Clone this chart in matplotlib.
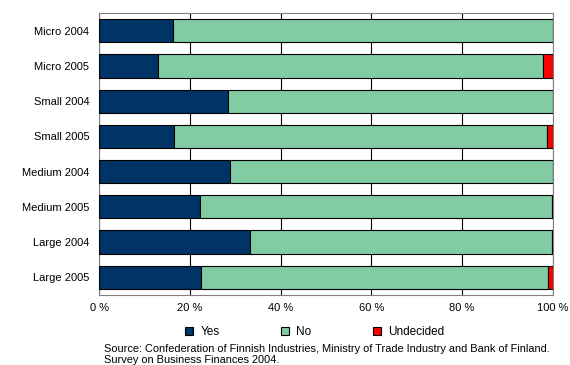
import matplotlib.pyplot as plt
import numpy as np

plt.rcParams["font.family"] = ["Liberation Sans", "DejaVu Sans"]

categories = ["Micro 2004", "Micro 2005", "Small 2004", "Small 2005",
              "Medium 2004", "Medium 2005", "Large 2004", "Large 2005"]
yes = [16.2, 12.9, 28.4, 16.6, 28.9, 22.3, 33.2, 22.5]
no = [83.8, 85.0, 71.6, 82.0, 71.1, 77.4, 66.5, 76.5]
undecided = [0.0, 2.1, 0.0, 1.4, 0.0, 0.3, 0.3, 1.0]
xticks = [0, 20, 40, 60, 80, 100]
source = ("Source: Confederation of Finnish Industries, Ministry of Trade Industry and Bank of Finland.\n"
          "Survey on Business Finances 2004.")

fig = plt.figure(figsize=(5.7, 3.65), dpi=100)
ax = fig.add_axes([0.174, 0.192, 0.796, 0.772])

y = np.arange(len(categories))
yes_a = np.array(yes)
no_a = np.array(no)
und_a = np.array(undecided)
kw = dict(height=0.66, edgecolor="black", linewidth=0.8, zorder=3)
ax.barh(y, yes_a, color="#003366", label="Yes", **kw)
ax.barh(y, no_a, left=yes_a, color="#82CCA3", label="No", **kw)
ax.barh(y, und_a, left=yes_a + no_a, color="#FF0000", label="Undecided", **kw)

ax.set_xlim(0, 100)
ax.set_ylim(len(categories) - 0.5, -0.5)
ax.set_yticks(y)
ax.set_yticklabels(categories, fontsize=8)
ax.set_xticks(xticks)
ax.set_xticklabels([f"{t} %" for t in xticks], fontsize=8)
ax.tick_params(axis="y", length=0, pad=7)
ax.tick_params(axis="x", length=0, pad=6)
ax.grid(axis="x", color="black", linewidth=0.8, zorder=0)
for s in ax.spines.values():
    s.set_color("#808080")

ax.legend(loc="upper center", bbox_to_anchor=(0.475, -0.09), ncol=3, frameon=False,
          fontsize=8.5, handlelength=0.7, handleheight=0.7, columnspacing=5.2,
          handletextpad=0.6, borderpad=0)
fig.text(0.182, 0.0, source, fontsize=7.9, va="bottom", ha="left", linespacing=1.15)

fig.savefig("out.png", dpi=100)
